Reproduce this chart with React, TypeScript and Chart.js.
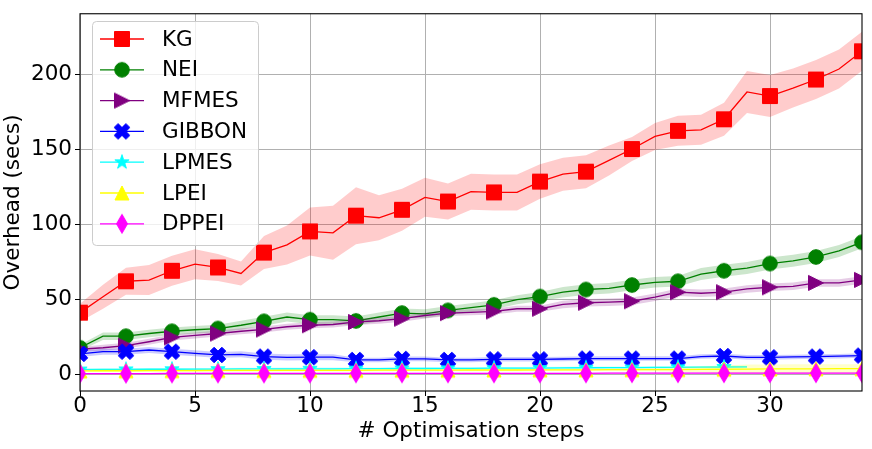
import React, { useEffect, useRef } from 'react';
import { Chart, registerables } from 'chart.js';

Chart.register(...registerables);

// ---------- data ----------
const steps = [0, 1, 2, 3, 4, 5, 6, 7, 8, 9, 10, 11, 12, 13, 14, 15, 16, 17, 18, 19, 20, 21, 22, 23, 24, 25, 26, 27, 28, 29, 30, 31, 32, 33, 34];
const xTicks = [0, 5, 10, 15, 20, 25, 30];
const yTicks = [0, 50, 100, 150, 200];

const seriesLabels = ['KG', 'NEI', 'MFMES', 'GIBBON', 'LPMES', 'LPEI', 'DPPEI'];
const seriesColors = ['#ff0000', '#008000', '#800080', '#0000ff', '#00ffff', '#ffff00', '#ff00ff'];
const seriesRGB = ['255,0,0', '0,128,0', '128,0,128', '0,0,255', '0,255,255', '255,255,0', '255,0,255'];

const kgMean = [41.4, 52.0, 62.3, 63.1, 69.3, 73.7, 71.5, 67.5, 81.4, 86.5, 95.5, 94.6, 106.0, 104.6, 109.9, 118.2, 115.4, 122.0, 121.5, 121.5, 128.7, 133.6, 135.3, 142.8, 150.4, 158.8, 162.5, 163.2, 170.2, 188.4, 185.7, 191.0, 196.7, 203.7, 215.5];
const kgStd = [6, 8, 9, 10, 10, 10, 9, 8, 11, 13, 16, 18, 19, 15, 14, 13, 12, 12, 12, 12, 11.5, 11, 11, 10, 8, 9, 10, 10, 11, 14, 14, 13, 13, 13, 13];

const neiMean = [18.0, 25.7, 25.7, 27.5, 29.0, 30.0, 30.8, 33.0, 35.6, 38.5, 36.7, 36.7, 35.9, 38.5, 41.1, 40.6, 42.9, 44.7, 46.6, 50.0, 52.1, 55.0, 56.8, 57.6, 59.8, 61.6, 62.3, 67.1, 69.3, 71.1, 74.1, 75.9, 78.5, 82.5, 88.3];
const neiStd = [2.0, 2.5, 2.5, 2.5, 2.5, 2.5, 2.5, 3.0, 3.0, 3.0, 3.0, 3.0, 3.0, 3.0, 3.0, 3.0, 3.0, 3.0, 3.0, 3.0, 3.0, 3.5, 3.5, 3.5, 3.5, 3.5, 3.5, 4.0, 4.0, 4.0, 4.0, 4.0, 4.0, 4.0, 4.0];

const mfmesMean = [17.0, 18.0, 19.4, 22.0, 24.9, 26.2, 27.5, 29.0, 30.2, 32.0, 33.0, 33.5, 35.2, 36.0, 37.4, 39.5, 41.1, 41.6, 42.2, 44.0, 44.0, 46.9, 48.0, 48.4, 49.0, 51.7, 55.0, 54.3, 55.0, 57.2, 58.3, 58.9, 61.2, 61.2, 63.2];
const mfmesStd = [1.5, 2.0, 2.0, 2.0, 2.0, 2.0, 2.0, 2.0, 2.0, 2.0, 2.0, 2.0, 2.0, 2.0, 2.0, 2.0, 2.0, 2.0, 2.0, 2.0, 2.0, 2.5, 2.5, 2.5, 2.5, 2.5, 2.5, 2.5, 2.5, 2.5, 2.5, 2.5, 2.5, 2.5, 2.5];

const gibbonMean = [13.9, 15.4, 15.4, 16.5, 15.4, 14.3, 13.2, 13.6, 12.1, 11.6, 11.7, 11.7, 9.9, 9.9, 10.6, 10.6, 9.9, 9.9, 10.3, 10.3, 10.3, 10.5, 10.8, 10.8, 10.8, 10.8, 10.8, 12.1, 12.5, 11.6, 11.6, 11.9, 12.1, 12.4, 12.8];
const gibbonStd = [2.0, 2.0, 2.0, 2.0, 2.0, 2.0, 2.0, 2.0, 2.0, 2.0, 2.0, 2.0, 1.5, 1.5, 1.5, 1.5, 1.5, 1.5, 1.5, 1.5, 1.5, 1.5, 1.5, 1.5, 1.5, 1.5, 1.5, 1.5, 1.5, 1.5, 1.5, 1.5, 1.5, 1.5, 1.5];

const lpmesMean = [3.5, 3.6, 3.6, 3.7, 3.7, 3.8, 3.8, 3.9, 3.9, 4.0, 4.0, 4.0, 4.1, 4.1, 4.2, 4.2, 4.3, 4.3, 4.4, 4.4, 4.5, 4.6, 4.7, 4.8, 4.8, 4.9, 5.0, 5.1, 5.2, 5.3];
const lpmesStd = [0.8, 0.8, 0.8, 0.8, 0.8, 0.8, 0.8, 0.8, 0.8, 0.8, 0.8, 0.8, 0.8, 0.8, 0.8, 0.8, 0.8, 0.8, 0.8, 0.8, 0.8, 0.8, 0.8, 0.8, 0.8, 0.8, 0.8, 0.8, 0.8, 0.8];

const lpeiMean = [2.6, 2.7, 2.7, 2.8, 2.8, 2.8, 2.9, 2.9, 2.9, 3.0, 3.0, 3.0, 3.0, 3.1, 3.1, 3.1, 3.1, 3.2, 3.2, 3.2, 3.3, 3.3, 3.3, 3.4, 3.4, 3.5, 3.5, 3.6, 3.7, 3.8, 3.9, 4.0, 4.0, 4.1, 4.1];
const lpeiStd = [0.8, 0.8, 0.8, 0.8, 0.8, 0.8, 0.8, 0.8, 0.8, 0.8, 0.8, 0.8, 0.8, 0.8, 0.8, 0.8, 0.8, 0.8, 0.8, 0.8, 0.8, 0.8, 0.8, 0.8, 1.0, 1.2, 1.5, 2.0, 2.5, 3.0, 3.0, 3.0, 3.0, 3.0, 3.0];

const dppeiMean = [0.8, 0.8, 0.8, 0.8, 0.9, 0.9, 0.9, 0.9, 0.9, 0.9, 0.9, 1.0, 1.0, 1.0, 1.0, 1.0, 1.0, 1.0, 1.0, 1.0, 1.0, 1.0, 1.0, 1.1, 1.1, 1.1, 1.1, 1.1, 1.1, 1.1, 1.1, 1.1, 1.1, 1.1, 1.1];
const dppeiStd = [0.4, 0.4, 0.4, 0.4, 0.4, 0.4, 0.4, 0.4, 0.4, 0.4, 0.4, 0.4, 0.4, 0.4, 0.4, 0.4, 0.4, 0.4, 0.4, 0.4, 0.4, 0.4, 0.4, 0.4, 0.4, 0.4, 0.4, 0.4, 0.4, 0.4, 0.4, 0.4, 0.4, 0.4, 0.4];

const allMeans = [kgMean, neiMean, mfmesMean, gibbonMean, lpmesMean, lpeiMean, dppeiMean];
const allStds = [kgStd, neiStd, mfmesStd, gibbonStd, lpmesStd, lpeiStd, dppeiStd];
const markerShapes = ['square', 'circle', 'triRight', 'xFilled', 'star', 'triUp', 'thinDiamond'];

const FONT = "'DejaVu Sans', 'Liberation Sans', sans-serif";
const FS = 21.5;

// ---------- marker glyphs ----------
function makeMarker(shape: string, color: string): HTMLCanvasElement {
  const c = document.createElement('canvas');
  const S = 24;
  c.width = S;
  c.height = S;
  const g = c.getContext('2d') as CanvasRenderingContext2D;
  g.translate(S / 2, S / 2);
  g.fillStyle = color;
  g.strokeStyle = color;
  g.lineWidth = 1;
  g.lineJoin = 'miter';
  g.beginPath();
  if (shape === 'square') {
    g.rect(-7.5, -7.5, 15, 15);
  } else if (shape === 'circle') {
    g.arc(0, 0, 7.3, 0, Math.PI * 2);
  } else if (shape === 'triRight') {
    g.moveTo(7.5, 0);
    g.lineTo(-7.5, -7.5);
    g.lineTo(-7.5, 7.5);
    g.closePath();
  } else if (shape === 'triUp') {
    g.moveTo(0, -7);
    g.lineTo(7, 7);
    g.lineTo(-7, 7);
    g.closePath();
  } else if (shape === 'xFilled') {
    const pts = [[-1, -3], [1, -3], [1, -1], [3, -1], [3, 1], [1, 1], [1, 3], [-1, 3], [-1, 1], [-3, 1], [-3, -1], [-1, -1]];
    const k = 16.5 / 6;
    const cs = Math.SQRT1_2;
    pts.forEach((p, i) => {
      const x = (p[0] * cs - p[1] * cs) * k;
      const y = (p[0] * cs + p[1] * cs) * k;
      if (i === 0) g.moveTo(x, y);
      else g.lineTo(x, y);
    });
    g.closePath();
  } else if (shape === 'star') {
    const R = 7.5;
    const r = R * 0.381966;
    for (let i = 0; i < 10; i++) {
      const rad = i % 2 === 0 ? R : r;
      const a = -Math.PI / 2 + (i * Math.PI) / 5;
      const x = Math.cos(a) * rad;
      const y = Math.sin(a) * rad;
      if (i === 0) g.moveTo(x, y);
      else g.lineTo(x, y);
    }
    g.closePath();
  } else if (shape === 'thinDiamond') {
    g.moveTo(0, -9.5);
    g.lineTo(5.5, 0);
    g.lineTo(0, 9.5);
    g.lineTo(-5.5, 0);
    g.closePath();
  }
  g.fill();
  g.stroke();
  return c;
}

export default function App() {
  const canvasRef = useRef<HTMLCanvasElement | null>(null);

  useEffect(() => {
    const canvas = canvasRef.current;
    if (!canvas) return;

    const markers = markerShapes.map((s, i) => makeMarker(s, seriesColors[i]));

    const datasets: any[] = [];
    allMeans.forEach((mean, i) => {
      const std = allStds[i];
      const base = 1000 - i * 3;
      datasets.push({
        label: seriesLabels[i] + ' upper',
        data: mean.map((m, j) => ({ x: steps[j], y: m + std[j] })),
        borderWidth: 0,
        borderColor: 'rgba(0,0,0,0)',
        pointRadius: 0,
        fill: '+1',
        backgroundColor: `rgba(${seriesRGB[i]},0.2)`,
        order: base,
      });
      datasets.push({
        label: seriesLabels[i] + ' lower',
        data: mean.map((m, j) => ({ x: steps[j], y: m - std[j] })),
        borderWidth: 0,
        borderColor: 'rgba(0,0,0,0)',
        pointRadius: 0,
        fill: false,
        order: base - 1,
      });
      datasets.push({
        label: seriesLabels[i],
        data: mean.map((m, j) => ({ x: steps[j], y: m })),
        borderColor: seriesColors[i],
        backgroundColor: seriesColors[i],
        borderWidth: 1.3,
        pointStyle: markers[i],
        pointRadius: (c: any) => (c.dataIndex % 2 === 0 ? 8 : 0),
        pointHoverRadius: (c: any) => (c.dataIndex % 2 === 0 ? 8 : 0),
        fill: false,
        tension: 0,
        order: base - 2,
      });
    });

    const framePlugin = {
      id: 'frame',
      afterDatasetsDraw(chart: any) {
        const { ctx, chartArea } = chart;
        ctx.save();
        ctx.strokeStyle = '#000';
        ctx.lineWidth = 1.1;
        ctx.strokeRect(chartArea.left, chartArea.top, chartArea.right - chartArea.left, chartArea.bottom - chartArea.top);
        ctx.restore();
      },
    };

    const legendPlugin = {
      id: 'mplLegend',
      afterDraw(chart: any) {
        const { ctx } = chart;
        ctx.save();
        const bx = 92, by = 21, bw = 166, bh = 224;
        ctx.beginPath();
        if ((ctx as any).roundRect) (ctx as any).roundRect(bx + 0.5, by + 0.5, bw, bh, 4);
        else ctx.rect(bx + 0.5, by + 0.5, bw, bh);
        ctx.fillStyle = 'rgba(255,255,255,0.8)';
        ctx.fill();
        ctx.strokeStyle = '#cccccc';
        ctx.lineWidth = 1;
        ctx.stroke();
        seriesLabels.forEach((lab, i) => {
          const y = 39 + i * 30.8;
          ctx.beginPath();
          ctx.strokeStyle = seriesColors[i];
          ctx.lineWidth = 1.3;
          ctx.moveTo(100, y);
          ctx.lineTo(144, y);
          ctx.stroke();
          const m = markers[i];
          ctx.drawImage(m, 122 - m.width / 2, y - m.height / 2);
          ctx.fillStyle = '#000';
          ctx.font = `${FS}px ${FONT}`;
          ctx.textBaseline = 'middle';
          ctx.textAlign = 'left';
          ctx.fillText(lab, 162, y + 1);
        });
        ctx.restore();
      },
    };

    const chart = new Chart(canvas, {
      type: 'line',
      data: { datasets },
      plugins: [framePlugin, legendPlugin],
      options: {
        animation: false,
        responsive: false,
        devicePixelRatio: 1,
        layout: { padding: { left: 0, top: 11, right: 10, bottom: 0 } },
        plugins: {
          legend: { display: false },
          tooltip: { enabled: false },
        },
        elements: { line: { tension: 0 } },
        scales: {
          x: {
            type: 'linear',
            min: 0,
            max: 34,
            afterBuildTicks: (s: any) => {
              s.ticks = xTicks.map((v) => ({ value: v }));
            },
            afterFit: (s: any) => {
              s.height = 58;
            },
            ticks: {
              font: { family: FONT, size: FS, lineHeight: 1 },
              color: '#000',
              padding: 0,
              maxRotation: 0,
              autoSkip: false,
            },
            grid: { color: '#b0b0b0', lineWidth: 1, tickColor: '#000', tickLength: 5, drawTicks: true },
            border: { display: false },
            title: {
              display: true,
              text: '# Optimisation steps',
              color: '#000',
              font: { family: FONT, size: FS, lineHeight: 1.2 },
              padding: { top: 0, bottom: 4.5 },
            },
          },
          y: {
            type: 'linear',
            min: -10.8,
            max: 240.5,
            afterBuildTicks: (s: any) => {
              s.ticks = yTicks.map((v) => ({ value: v }));
            },
            afterFit: (s: any) => {
              s.width = 80;
            },
            ticks: {
              font: { family: FONT, size: FS, lineHeight: 1 },
              color: '#000',
              padding: 3,
            },
            grid: { color: '#b0b0b0', lineWidth: 1, tickColor: '#000', tickLength: 5, drawTicks: true },
            border: { display: false },
            title: {
              display: true,
              text: 'Overhead (secs)',
              color: '#000',
              font: { family: FONT, size: FS, lineHeight: 1.2 },
              padding: { top: 1, bottom: 0 },
            },
          },
        },
      } as any,
    });

    return () => {
      chart.destroy();
    };
  }, []);

  return (
    <div style={{ position: 'fixed', left: 0, top: 0, width: 872, height: 449, background: '#fff' }}>
      <canvas ref={canvasRef} width={872} height={449} style={{ display: 'block', width: 872, height: 449 }} />
    </div>
  );
}
